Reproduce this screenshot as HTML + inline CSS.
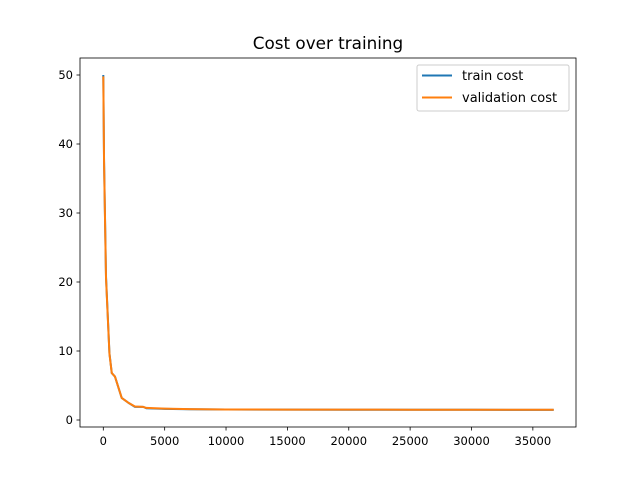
<!DOCTYPE html>
<html><head><meta charset="utf-8"><style>
body{margin:0;background:#fff}
svg text{font-family:"DejaVu Sans","Liberation Sans",sans-serif;fill:#000}
</style></head><body>
<svg id="chart" width="640" height="480">
<rect width="640" height="480" fill="#fff"/>
<text x="328" y="49" font-size="16.8" text-anchor="middle">Cost over training</text>
<g id="series"></g>
<rect x="80" y="58" width="496" height="369" fill="none" stroke="#000" stroke-width="0.8"/>
<g id="xticks"></g><g id="yticks"></g>
<g>
<rect x="417" y="65" width="152" height="46" rx="2" fill="#fff" fill-opacity="0.8" stroke="#ccc"/>
<line x1="422" y1="75.5" x2="452" y2="75.5" stroke="#1f77b4" stroke-width="2"/>
<text x="462" y="80" font-size="13">train cost</text>
<line x1="422" y1="97.5" x2="452" y2="97.5" stroke="#ff7f0e" stroke-width="2"/>
<text x="462" y="102" font-size="13">validation cost</text>
</g>
</svg>
<script>
const steps=[0,60,220,500,690,950,1500,2040,2580,3260,3500,5000,7000,10000,15000,20000,25000,30000,36700];
const trainCost=[50,37.7,20.8,9.7,6.8,6.3,3.2,2.5,1.9,1.9,1.7,1.62,1.55,1.52,1.5,1.49,1.48,1.48,1.47];
const validCost=[49.8,37.5,20.6,9.6,6.8,6.3,3.2,2.5,1.95,1.9,1.75,1.65,1.57,1.53,1.51,1.5,1.49,1.49,1.48];
const xTickVals=[0,5000,10000,15000,20000,25000,30000,35000];
const yTickVals=[0,10,20,30,40,50];
const NS="http://www.w3.org/2000/svg";
const xs=v=>103.3+v*0.012273;
const ys=v=>420-v*6.9;
function mk(t,a,parent){const e=document.createElementNS(NS,t);for(const k in a)e.setAttribute(k,a[k]);parent.appendChild(e);return e;}
const ser=document.getElementById('series');
[[trainCost,'#1f77b4','train-cost-line'],[validCost,'#ff7f0e','validation-cost-line']].forEach(([d,c,n])=>{
 const p=mk('polyline',{points:steps.map((s,i)=>xs(s)+','+ys(d[i])).join(' '),fill:'none',stroke:c,'stroke-width':2,'stroke-linejoin':'round'},ser);
 
 
});
const xt=document.getElementById('xticks');
xTickVals.forEach(v=>{
 const l=mk('line',{x1:xs(v),x2:xs(v),y1:427,y2:430.5,stroke:'#000','stroke-width':0.8},xt);
 
 
 const t=mk('text',{x:xs(v),y:445,'font-size':11.5,'text-anchor':'middle'},xt);t.textContent=v;
 
 
});
const yt=document.getElementById('yticks');
yTickVals.forEach(v=>{
 const l=mk('line',{x1:76.5,x2:80,y1:ys(v),y2:ys(v),stroke:'#000','stroke-width':0.8},yt);
 
 
 const t=mk('text',{x:73,y:ys(v)+4,'font-size':11.5,'text-anchor':'end'},yt);t.textContent=v;
 
 
});
</script>
</body></html>
